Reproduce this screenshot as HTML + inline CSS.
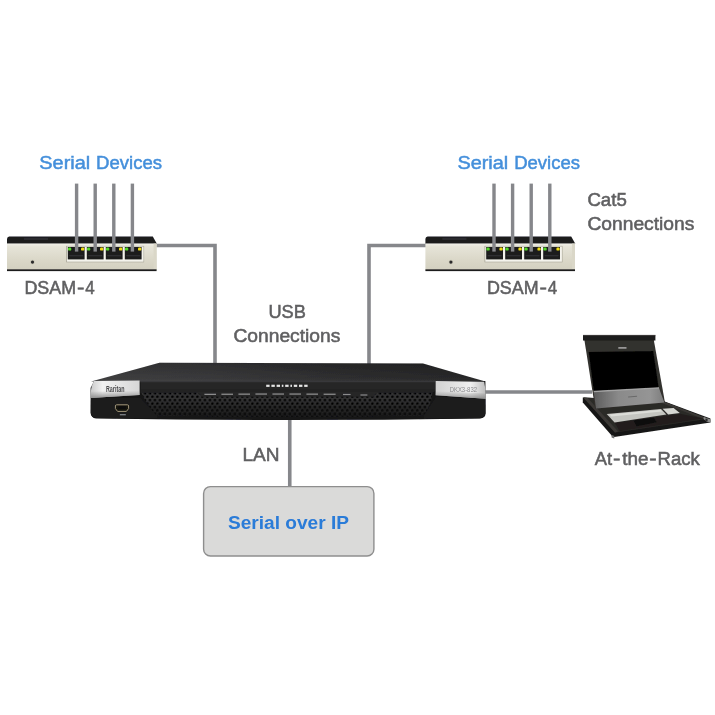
<!DOCTYPE html>
<html>
<head>
<meta charset="utf-8">
<title>Serial over IP diagram</title>
<style>
html,body{margin:0;padding:0;background:#ffffff;}
body{width:715px;height:715px;overflow:hidden;font-family:"Liberation Sans",sans-serif;}
svg{display:block;}
text{font-family:"Liberation Sans",sans-serif;}
.g{fill:#5f5f61;stroke:#5f5f61;stroke-width:0.55px;}
.b{fill:#448fdb;stroke:#448fdb;stroke-width:0.5px;}
</style>
</head>
<body>
<svg width="715" height="715" viewBox="0 0 715 715">
<defs>
  <filter id="soft" x="-5%" y="-5%" width="110%" height="110%"><feGaussianBlur stdDeviation="0.45"/></filter>
  <filter id="tsoft" x="-2%" y="-2%" width="104%" height="104%"><feGaussianBlur stdDeviation="0.3"/></filter>
  <filter id="soft2" x="-5%" y="-5%" width="110%" height="110%"><feGaussianBlur stdDeviation="0.35"/></filter>
  <linearGradient id="silverL" x1="0" y1="0" x2="1" y2="0">
    <stop offset="0" stop-color="#c9c9c9"/><stop offset="0.25" stop-color="#f2f2f2"/><stop offset="1" stop-color="#d6d6d6"/>
  </linearGradient>
  <linearGradient id="silverR" x1="0" y1="0" x2="1" y2="0">
    <stop offset="0" stop-color="#d2d2d2"/><stop offset="0.7" stop-color="#f0f0f0"/><stop offset="1" stop-color="#bdbdbd"/>
  </linearGradient>
  <linearGradient id="badgeShade" x1="0" y1="0" x2="0" y2="1">
    <stop offset="0" stop-color="#9a9a9a" stop-opacity="0"/><stop offset="1" stop-color="#8c8c8c" stop-opacity="0.95"/>
  </linearGradient>
  <linearGradient id="meshFade" x1="0" y1="0" x2="0" y2="1">
    <stop offset="0.3" stop-color="#0a0a0a" stop-opacity="0"/><stop offset="1" stop-color="#0a0a0a" stop-opacity="0.6"/>
  </linearGradient>
  <linearGradient id="kvmTop" x1="0" y1="0" x2="1" y2="0">
    <stop offset="0" stop-color="#3d3d3e"/><stop offset="0.3" stop-color="#38383a"/><stop offset="0.6" stop-color="#2e2e2f"/><stop offset="1" stop-color="#262627"/>
  </linearGradient>
  <linearGradient id="kvmTopV" x1="0" y1="0" x2="0" y2="1">
    <stop offset="0" stop-color="#000" stop-opacity="0.18"/><stop offset="0.7" stop-color="#000" stop-opacity="0"/><stop offset="1" stop-color="#fff" stop-opacity="0.05"/>
  </linearGradient>
  <linearGradient id="bezel" x1="0" y1="0" x2="1" y2="0">
    <stop offset="0" stop-color="#5c5c5c"/><stop offset="0.35" stop-color="#8a8a8a"/><stop offset="0.8" stop-color="#959595"/><stop offset="1" stop-color="#7c7c7c"/>
  </linearGradient>
  <pattern id="mesh" width="5" height="6.8" patternUnits="userSpaceOnUse" patternTransform="translate(1.2 0.6)">
    <rect width="5" height="6.8" fill="#313132"/>
    <circle cx="1.25" cy="1.7" r="1.3" fill="#030303"/><circle cx="3.75" cy="5.1" r="1.3" fill="#030303"/>
  </pattern>

  <!-- DSAM-4 unit, origin at its top-left (7,236.6) -->
  <linearGradient id="dsBody" x1="0" y1="0" x2="0" y2="1">
    <stop offset="0" stop-color="#f1f0e8"/><stop offset="0.12" stop-color="#e6e4d8"/><stop offset="0.6" stop-color="#dbd8c9"/><stop offset="1" stop-color="#d3d0c0"/>
  </linearGradient>
  <g id="dsam">
    <!-- black top -->
    <path d="M2.2,-0.2 L145.8,-0.2 L149.9,7.2 L0,7.2 L0,2.4 Q0.2,0 2.2,-0.2 Z" fill="#1d1d1e"/>
    <rect x="17" y="1.2" width="24" height="2.2" fill="#2c2c2d"/>
    <!-- body -->
    <rect x="0" y="7" width="149.6" height="26" fill="url(#dsBody)"/>
    <rect x="146.6" y="7" width="3" height="26" fill="#dad7c8"/>
    <!-- bottom edge -->
    <rect x="0" y="32.7" width="149.6" height="1.8" fill="#1f1f1f"/>
    <!-- small hole -->
    <circle cx="25.5" cy="25.5" r="2.3" fill="#c9c6b6"/><circle cx="25.5" cy="25.5" r="1.6" fill="#2a2a2a"/>
    <!-- ports frame -->
    <rect x="59.1" y="9.3" width="78" height="16.4" fill="#a9a798"/>
    <rect x="59.9" y="9.9" width="76.6" height="15.2" fill="#f4f3ec"/>
    <g id="port">
      <rect x="60.8" y="10.4" width="16.8" height="12.4" fill="#1a1a1b"/>
      <rect x="62.2" y="18.2" width="14" height="1.5" fill="#2e2e30"/>
      <rect x="61" y="11" width="3.3" height="3" rx="1.2" fill="#57d92b"/>
      <rect x="74" y="11" width="3.3" height="3" rx="1.2" fill="#efdc14"/>
    </g>
    <use href="#port" x="19"/>
    <use href="#port" x="38"/>
    <use href="#port" x="57"/>
  </g>
</defs>

<rect width="715" height="715" fill="#ffffff"/>

<!-- ===== connection lines ===== -->
<g fill="none" stroke="#86878b" stroke-width="3.6" stroke-linejoin="miter" filter="url(#tsoft)">
  <path d="M156,245.45 H215 V364"/>
  <path d="M426,245.45 H369 V364"/>
  <path d="M484,392 H592"/>
  <path d="M289.75,418 V487"/>
</g>

<!-- ===== left DSAM ===== -->
<g filter="url(#soft2)">
<use href="#dsam" x="7" y="236.6"/>
<use href="#dsam" x="425.4" y="236.6"/>
</g>
<!-- cat5 lines into ports -->
<g fill="#86878b" filter="url(#tsoft)">
  <rect x="74.9" y="183.6" width="3.4" height="68"/>
  <rect x="93.5" y="183.6" width="3.4" height="68"/>
  <rect x="112.1" y="183.6" width="3.4" height="68"/>
  <rect x="130.7" y="183.6" width="3.4" height="68"/>
  <rect x="492.3" y="183.6" width="3.4" height="68"/>
  <rect x="510.9" y="183.6" width="3.4" height="68"/>
  <rect x="529.5" y="183.6" width="3.4" height="68"/>
  <rect x="548.1" y="183.6" width="3.4" height="68"/>
</g>

<!-- ===== KVM switch ===== -->
<g filter="url(#soft)">
  <!-- top face -->
  <path d="M159.5,362.8 L423,363.4 L485.4,381.6 L91,381.6 Z" fill="url(#kvmTop)"/>
  <path d="M159.5,362.8 L423,363.4 L485.4,381.6 L91,381.6 Z" fill="url(#kvmTopV)"/>
  <!-- front face -->
  <path d="M94,381.2 L485.4,381 L485.6,413.4 Q485.2,418 480,418.4 Q288,421.6 96,418.4 Q91,418 90.6,413 L90.6,388 Z" fill="#141415"/>
  <!-- subtle lighter sheen on lower-left and lower-right front -->
  <path d="M91,398 L141,398 L157,415 L157,418.8 L96,418 Q91,417.6 90.8,413 Z" fill="#1a1a1b"/>
  <path d="M436,396 L485.4,399 L485.4,413 Q485,418 480,418.2 L424,419 L424,415 Z" fill="#1a1a1b"/>
  <!-- mesh -->
  <path d="M141,392.6 L432.4,392.6 Q431.5,405 423.6,415.6 Q288,418.2 156.4,415.6 Q147,405 141,392.6 Z" fill="url(#mesh)"/>
  <path d="M141,392.6 L432.4,392.6 Q431.5,405 423.6,415.6 Q288,418.2 156.4,415.6 Q147,405 141,392.6 Z" fill="url(#meshFade)"/>
  <!-- upper front band (with lower step in centre for port labels) -->
  <path d="M140.4,381.4 L435.4,381.4 L435.4,389.4 Q435,392.6 431,392.8 L379,392.8 Q375.6,393 373.6,396.8 L201.4,396.8 Q199.6,393 196,392.8 L140.4,392.8 Z" fill="#252526"/>
  <rect x="140.4" y="381" width="295" height="1.3" fill="#39393a"/>
  <rect x="140.4" y="389.6" width="295" height="1.6" fill="#202021" opacity="0.7"/>
  <!-- silver badges -->
  <path d="M94,380.9 L139.6,380.6 L139.6,395 L90.4,398 Q90.5,386.4 94,380.9 Z" fill="url(#silverL)"/>
  <path d="M90.5,391.6 L139.6,390.6 L139.6,395 L90.4,398 Z" fill="url(#badgeShade)"/>
  <path d="M435.6,381 L484.2,381.8 Q486,389.6 485.7,398.8 L435.6,395.2 Z" fill="url(#silverR)"/>
  <path d="M435.6,391 L485.8,393.4 L485.7,398.8 L435.6,395.2 Z" fill="url(#badgeShade)"/>
  <text x="106" y="391.9" font-size="8.4" font-weight="bold" fill="#4a4a4c" textLength="18.4" lengthAdjust="spacingAndGlyphs">Raritan</text>
  <text x="449.7" y="391.9" font-size="7.2" fill="#8a8a8d" textLength="27.3" lengthAdjust="spacingAndGlyphs">DKX3-832</text>
  <!-- usb port -->
  <path d="M116.6,404.8 L127.4,404.8 Q128.6,404.8 128.6,406 L128.6,408.6 L126.4,411.4 L117.6,411.4 L115.4,408.6 L115.4,406 Q115.4,404.8 116.6,404.8 Z" fill="#15130f" stroke="#a3977a" stroke-width="1"/>
  <rect x="118.6" y="406.6" width="7.4" height="2.2" fill="#0a0a0a"/>
  <rect x="119.8" y="414.2" width="6" height="1.1" fill="#8f959c"/>
  <!-- dominion logo -->
  <g fill="#e4e4e4">
    <rect x="266.2" y="384.7" width="3.4" height="2.2"/><rect x="271.4" y="384.7" width="3.4" height="2.2"/>
    <rect x="276.6" y="384.7" width="3.4" height="2.2"/><rect x="281.8" y="384.7" width="1.6" height="2.2"/>
    <rect x="285.2" y="384.7" width="3.4" height="2.2"/><rect x="290.4" y="384.7" width="1.6" height="2.2"/>
    <rect x="293.8" y="384.7" width="3.4" height="2.2"/><rect x="299" y="384.7" width="3.4" height="2.2"/>
    <rect x="304.2" y="384.7" width="3.4" height="2.2"/>
  </g>
  <!-- port labels -->
  <g fill="#8c8c8c">
    <rect x="204.4" y="393.7" width="11.6" height="1.3"/><rect x="221.4" y="393.6" width="11.6" height="1.3"/>
    <rect x="238.4" y="393.5" width="11.6" height="1.3"/><rect x="255.4" y="393.4" width="11.6" height="1.3"/>
    <rect x="272.4" y="393.4" width="11.6" height="1.3"/><rect x="289.4" y="393.4" width="11.6" height="1.3"/>
    <rect x="306.4" y="393.5" width="11.6" height="1.3"/><rect x="323.6" y="393.6" width="12" height="1.3"/>
    <rect x="343" y="393.9" width="7.6" height="1.2"/><rect x="360.4" y="394.4" width="7" height="1.2"/>
  </g>
</g>

<!-- ===== rack console ===== -->
<g filter="url(#soft)">
  <!-- tray body (side thickness) -->
  <path d="M582.8,397.4 L663.3,401 L710.4,418.6 L710.4,422.4 L614.2,437 L611.6,435.4 L582.8,402.4 Z" fill="#191817"/>
  <!-- tray top surface -->
  <path d="M583.4,397.6 L663,401.2 L708,418.8 L615,432.6 Z" fill="#2c2a28"/>
  <!-- left rail -->
  <path d="M583.4,397.6 L587.6,398 L618,431.6 L615,432.6 Z" fill="#3b3936"/>
  <!-- back rim / right rail -->
  <path d="M663,401.2 L708,418.8 L705,419.4 L660.6,402.6 Z" fill="#3a3835"/>
  <!-- palm rest darker band -->
  <path d="M614.6,422.8 L680.4,413.8 L704,418.6 L619.6,431.2 Z" fill="#211f1e"/>
  <!-- keyboard -->
  <path d="M606.7,413.9 L661,408.9 L666.4,414.6 L614.6,422.4 Z" fill="#c4c5c0"/>
  <path d="M609.5,414.6 L660.4,409.8 L662,411.4 L611.4,416.6 Z" fill="#dcddd8"/>
  <path d="M662.6,408.8 L673.6,407.9 L679.8,413 L668.2,414.4 Z" fill="#d6d7d2"/>
  <!-- touchpad -->
  <path d="M633.6,420.5 L653.7,417.7 L656.8,422.2 L636.6,426.2 Z" fill="#0d0d0d"/>
  <!-- lid -->
  <path d="M584.4,340 L653.8,340 L665,402.8 L595.2,408.8 Z" fill="#32302d"/>
  <path d="M583,334.9 L655.4,335.4 L655.4,340.6 L583,340.6 Z" fill="#1c1b1a"/>
  <rect x="583" y="334.9" width="72.4" height="1.2" fill="#3a3937"/>
  <!-- bezel bottom silver -->
  <path d="M593.6,390.6 L658.6,387.1 L664.4,402.4 L596,408.4 Z" fill="url(#bezel)"/>
  <path d="M593.6,390.6 L658.6,387.1 L659,388.6 L593.9,392.2 Z" fill="#a4a4a4"/>
  <rect x="628" y="396.2" width="9" height="0.9" fill="#6a6a6a" transform="rotate(-4 632 396)"/>
  <!-- screen -->
  <path d="M588.7,351.9 L653.3,350.9 L658.6,387.2 L593.7,390.7 Z" fill="#060606"/>
  <rect x="618.3" y="347.1" width="8.2" height="1.6" fill="#a2a2a2"/>
  <!-- feet / brackets -->
  <path d="M611.4,434.8 L614.4,436 L614.2,438.4 L611.6,437.4 Z" fill="#6f6f6f"/>
  <path d="M703.6,417 L710.8,419.4 L710.8,422.4 L706.6,421.4 L703.6,419 Z" fill="#8d8d8d"/>
  <rect x="705.4" y="418.6" width="2.2" height="2.4" fill="#2a2a2a"/>
</g>

<!-- ===== Serial over IP box ===== -->
<rect x="203.6" y="486.6" width="170.3" height="69.4" rx="6.8" ry="6.8" fill="#dadad9" stroke="#8e8e8e" stroke-width="1.4" filter="url(#tsoft)"/>

<!-- ===== text ===== -->
<g filter="url(#tsoft)">
<text class="b" x="39.32" y="169.3" font-size="18.8" textLength="50.89" lengthAdjust="spacingAndGlyphs">Serial</text>
<text class="b" x="96.10" y="169.3" font-size="18.8" textLength="65.94" lengthAdjust="spacingAndGlyphs">Devices</text>
<text class="b" x="457.42" y="169.3" font-size="18.8" textLength="50.89" lengthAdjust="spacingAndGlyphs">Serial</text>
<text class="b" x="514.21" y="169.3" font-size="18.8" textLength="65.84" lengthAdjust="spacingAndGlyphs">Devices</text>

<text class="g" x="24.46" y="294.1" font-size="18.8" textLength="51.58" lengthAdjust="spacingAndGlyphs">DSAM</text>
<text class="g" x="76.93" y="294.1" font-size="18.8" textLength="7.43" lengthAdjust="spacingAndGlyphs">-</text>
<text class="g" x="85.34" y="294.1" font-size="18.8" textLength="9.44" lengthAdjust="spacingAndGlyphs">4</text>
<text class="g" x="486.96" y="294.1" font-size="18.8" textLength="51.58" lengthAdjust="spacingAndGlyphs">DSAM</text>
<text class="g" x="539.43" y="294.1" font-size="18.8" textLength="7.43" lengthAdjust="spacingAndGlyphs">-</text>
<text class="g" x="547.84" y="294.1" font-size="18.8" textLength="9.44" lengthAdjust="spacingAndGlyphs">4</text>

<text class="g" x="587.4" y="206.3" font-size="18.8" textLength="39.4" lengthAdjust="spacingAndGlyphs">Cat5</text>
<text class="g" x="587.4" y="229.9" font-size="18.8" textLength="107.0" lengthAdjust="spacingAndGlyphs">Connections</text>

<text class="g" x="268.4" y="318.3" font-size="18.8" textLength="37.4" lengthAdjust="spacingAndGlyphs">USB</text>
<text class="g" x="233.4" y="341.7" font-size="18.8" textLength="107.0" lengthAdjust="spacingAndGlyphs">Connections</text>

<text class="g" x="242.4" y="460.9" font-size="18.8" textLength="37.0" lengthAdjust="spacingAndGlyphs">LAN</text>

<text class="g" x="594.79" y="465.1" font-size="18.8" textLength="17.32" lengthAdjust="spacingAndGlyphs">At</text>
<text class="g" x="613.13" y="465.1" font-size="18.8" textLength="7.43" lengthAdjust="spacingAndGlyphs">-</text>
<text class="g" x="622.24" y="465.1" font-size="18.8" textLength="26.28" lengthAdjust="spacingAndGlyphs">the</text>
<text class="g" x="649.23" y="465.1" font-size="18.8" textLength="7.43" lengthAdjust="spacingAndGlyphs">-</text>
<text class="g" x="657.50" y="465.1" font-size="18.8" textLength="42.24" lengthAdjust="spacingAndGlyphs">Rack</text>

<text x="228.0" y="529.4" font-size="18.8" font-weight="bold" fill="#2b7bd8" textLength="121.0" lengthAdjust="spacingAndGlyphs">Serial over IP</text>
</g>
</svg>
</body>
</html>
